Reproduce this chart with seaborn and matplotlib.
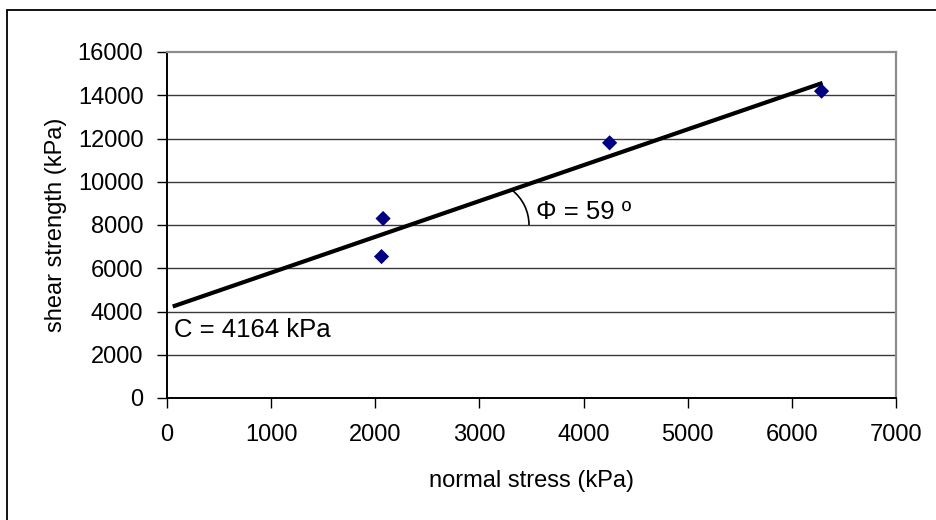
import matplotlib
matplotlib.use("Agg")
import matplotlib.pyplot as plt
import seaborn as sns
import pandas as pd
from matplotlib.patches import Arc, Rectangle

# ---- data ----
normal_stress = [2060, 2075, 4250, 6285]          # kPa
shear_strength = [6540, 8300, 11800, 14190]       # kPa
fit_x = [55, 6295]                                # fitted envelope end points
fit_y = [4230, 14570]
x_ticks = [0, 1000, 2000, 3000, 4000, 5000, 6000, 7000]
y_ticks = [0, 2000, 4000, 6000, 8000, 10000, 12000, 14000, 16000]
cohesion_label = "C = 4164 kPa"
phi_label = "\u03a6 = 59 \u00ba"
x_label = "normal stress (kPa)"
y_label = "shear strength (kPa)"

sns.set_theme(style="white")
plt.rcParams["font.family"] = ["Liberation Sans", "DejaVu Sans"]

fig = plt.figure(figsize=(9.37, 5.2), dpi=100)
ax = fig.add_axes([167 / 937, 1 - 398 / 520, (896 - 167) / 937, (398 - 52) / 520])

df = pd.DataFrame({"x": normal_stress, "y": shear_strength})
fit = pd.DataFrame({"x": fit_x, "y": fit_y})

for yv in y_ticks[1:-1]:
    ax.axhline(yv, color="#3a3a3a", lw=1.0, zorder=1)

sns.lineplot(data=fit, x="x", y="y", color="black", lw=3.0, ax=ax, zorder=3,
             solid_capstyle="butt")
sns.scatterplot(data=df, x="x", y="y", marker="D", s=60, color="#000080",
                edgecolor="none", ax=ax, zorder=4)

ax.set_xlim(x_ticks[0], x_ticks[-1])
ax.set_ylim(y_ticks[0], y_ticks[-1])
ax.set_xticks(x_ticks)
ax.set_yticks(y_ticks)
ax.tick_params(axis="both", which="major", direction="out", length=7, width=1,
               color="black", labelsize=17, labelcolor="black",
               left=True, bottom=True)
ax.tick_params(axis="y", pad=10)
ax.tick_params(axis="x", pad=12)

ax.set_xlabel(x_label, fontsize=17, color="black", labelpad=17)
ax.set_ylabel(y_label, fontsize=17, color="black", labelpad=8)

for side in ["top", "right"]:
    ax.spines[side].set_color("#8c8c8c")
    ax.spines[side].set_linewidth(1.6)
for side in ["left", "bottom"]:
    ax.spines[side].set_color("black")
    ax.spines[side].set_linewidth(1.4)

# annotations
ax.text(67, 2820, cohesion_label, fontsize=18.5, color="black", ha="left",
        va="baseline", zorder=5)
ax.text(3540, 8290, phi_label, fontsize=18.5, color="black", ha="left",
        va="baseline", zorder=5)
ax.add_patch(Arc((3047, 8000), 858, 4115, theta1=0, theta2=80.8,
                 color="black", lw=1.2, zorder=3))

# outer chart border (cropped at right and bottom)
fig.patches.append(Rectangle((7 / 937, -0.05), 1.1, 1 - 10 / 520 + 0.05,
                             transform=fig.transFigure, fill=False,
                             edgecolor="black", lw=1.3))

fig.savefig("out.png", dpi=100)
